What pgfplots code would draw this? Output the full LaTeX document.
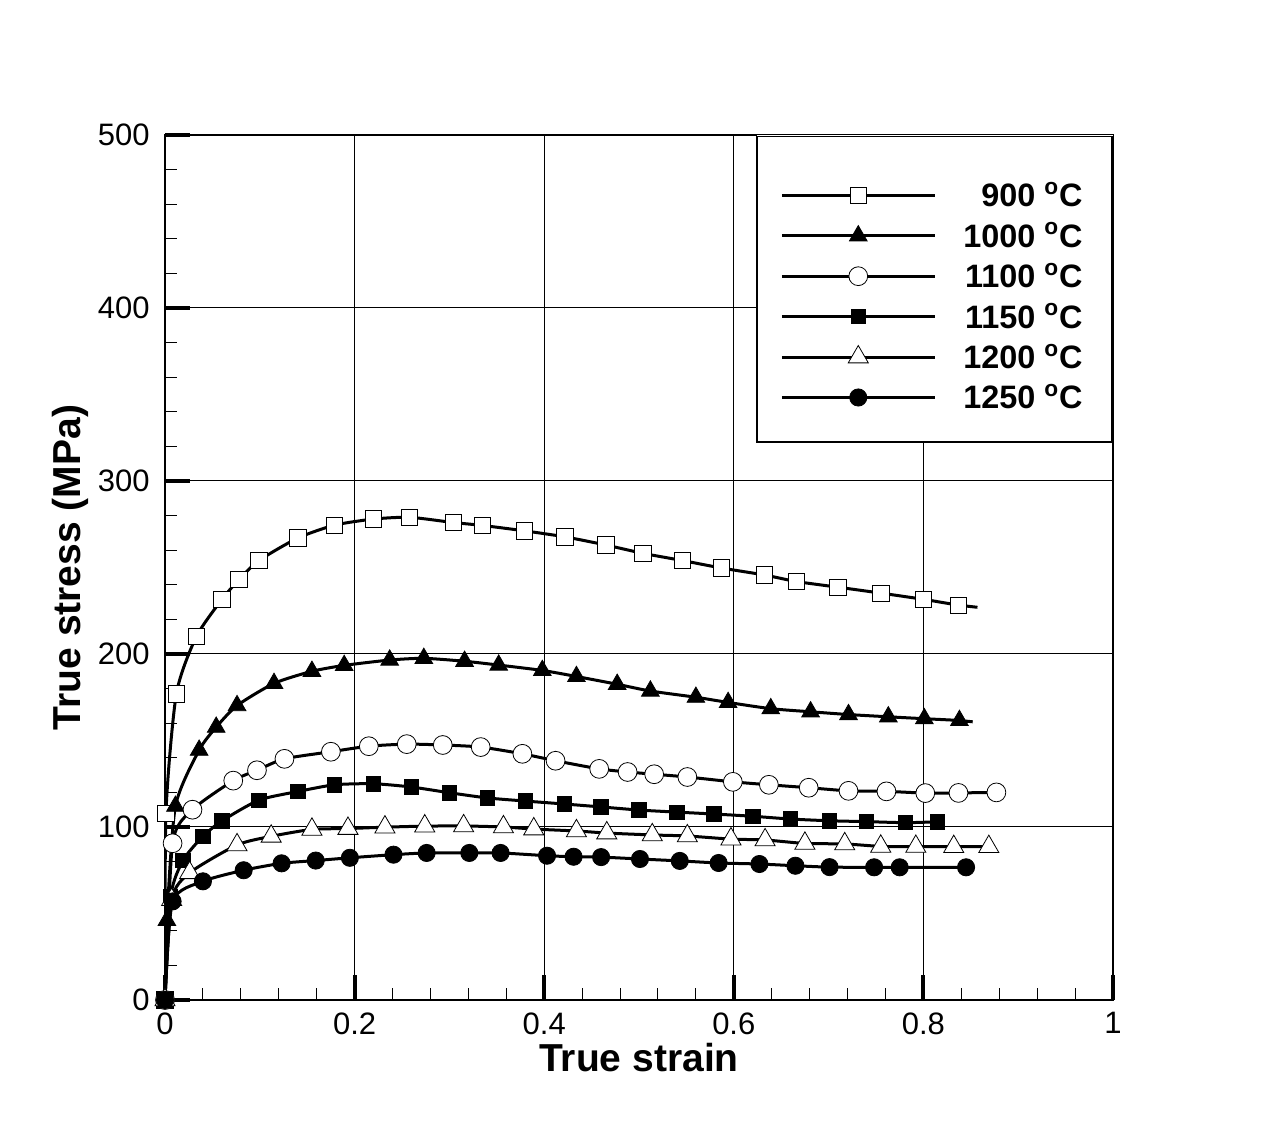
\documentclass[border=0pt]{standalone}
\usepackage{fontspec}
\setmainfont{Liberation Sans}
\usepackage{pgfplots}
\usepackage{pgfplotstable}
\pgfplotsset{compat=1.18}

\pgfplotstableread{
x y
0 0
0.001 108
0.012 177
0.033 210
0.060 231.5
0.078 243
0.099 254
0.140 267
0.179 274.5
0.220 278
0.258 279
0.304 276
0.335 274.3
0.379 271.2
0.422 267.7
0.465 263
0.504 258.2
0.546 254
0.587 249.7
0.632 245.7
0.666 241.9
0.710 238.6
0.755 235.2
0.800 231.6
0.837 228.2
}\Tnine

\pgfplotstableread{
x y
0 0
0.002 46
0.011 112
0.036 144.4
0.054 157.7
0.076 170.2
0.115 183
0.155 190
0.189 193.4
0.237 196.5
0.273 197.5
0.316 195.8
0.352 193.6
0.398 190.5
0.434 187
0.477 182.5
0.512 178.6
0.560 175
0.594 172
0.639 168.4
0.681 166.6
0.721 165
0.763 163.7
0.801 162.6
0.838 161.6
}\Tthousand

\pgfplotstableread{
x y
0 0
0.008 90.6
0.029 110
0.072 126.8
0.097 132.8
0.126 139.4
0.175 143.5
0.215 146.7
0.255 147.9
0.293 147.4
0.333 146.2
0.377 142.3
0.412 138.3
0.458 133.6
0.488 131.8
0.516 130.5
0.551 128.9
0.599 126.1
0.637 124.4
0.679 122.7
0.721 120.9
0.761 120.6
0.802 119.6
0.837 119.7
0.877 120
}\Televen

\pgfplotstableread{
x y
0 0
0.006 60
0.019 80.7
0.040 94.6
0.060 103.5
0.099 115.5
0.140 120.5
0.179 124.4
0.220 125
0.260 123.1
0.300 119.8
0.340 116.8
0.380 115
0.421 113.3
0.460 111.6
0.500 109.8
0.540 108.6
0.579 107.5
0.620 106.2
0.660 104.6
0.701 103.6
0.740 103.1
0.781 102.5
0.815 103
}\Televenfifty

\pgfplotstableread{
x y
0 0
0.007 58
0.026 73.5
0.076 89.6
0.112 94.6
0.155 98.6
0.193 99.1
0.232 99.9
0.274 100.5
0.315 100.6
0.357 100
0.389 98.8
0.434 97.7
0.466 96.5
0.514 95.4
0.551 94.8
0.597 93
0.633 92.5
0.675 90.5
0.717 90.2
0.755 88.8
0.792 88.7
0.832 88.6
0.869 88.6
}\Ttwelve

\pgfplotstableread{
x y
0 0
0.008 57
0.040 68.6
0.083 75
0.123 79
0.159 80.6
0.195 82.2
0.241 84
0.276 85
0.321 85
0.354 85
0.403 83.4
0.431 82.8
0.460 82.6
0.501 81.5
0.543 80.4
0.584 79.2
0.627 78.6
0.665 77.6
0.701 76.8
0.748 76.7
0.775 76.7
0.845 76.7
}\Ttwelvefifty

\begin{document}
\begin{tikzpicture}
\useasboundingbox (0,0) rectangle (633bp,562.5bp);
\begin{axis}[
  at={(82.5bp,62.5bp)}, anchor=south west,
  scale only axis, width=474bp, height=432.5bp,
  xmin=0, xmax=1, ymin=0, ymax=500,
  xtick={0,0.2,0.4,0.6,0.8,1},
  ytick={0,100,200,300,400,500},
  minor x tick num=4, minor y tick num=4,
  tick align=inside, xtick pos=bottom, ytick pos=left,
  grid=major,
  major grid style={black, line width=0.5bp},
  minor grid style={draw=none},
  axis line style={black, line width=0.6bp},
  major tick length=12.5bp, minor tick length=6bp,
  every major tick/.append style={black, line width=2bp},
  every minor tick/.append style={black, line width=0.5bp},
  /pgf/number format/assume math mode=true,
  ticklabel style={font=\fontsize{15.5bp}{18bp}\selectfont, inner sep=0pt},
  xticklabel style={yshift=-6bp},
  yticklabel style={xshift=-7.5bp},
  xlabel={True strain},
  ylabel={True stress (MPa)},
  label style={font=\bfseries\fontsize{19.5bp}{23bp}\selectfont},
  xlabel style={at={(axis description cs:0.5,-0.0832)}, anchor=base},
  ylabel style={at={(axis description cs:-0.0895,0.5)}, anchor=base},
  legend cell align=right,
  legend style={at={(rel axis cs:1,1)}, anchor=north east, xshift=-15bp, yshift=-24.25bp,
    draw=none, fill=none, inner sep=0pt, row sep=8.7bp, column sep=13.5bp,
    font=\bfseries\fontsize{16.2bp}{19bp}\selectfont,
    nodes={inner sep=0pt, text height=11.5bp, text depth=0pt}},
  legend image code/.code={
    \path[draw=none, fill=none] (0bp,-5.5bp) rectangle (76.5bp,5.5bp);
    \draw[black, line width=1.5bp] (0bp,0bp) -- (76.5bp,0bp);
    \draw[#1, mark repeat=2, mark phase=2] plot coordinates {(0bp,0bp) (38.25bp,0bp) (76.5bp,0bp)};
  },
  line lw/.style={black, line width=1.5bp, smooth, tension=0.4, forget plot},
  mk/.style={black, only marks, mark options={solid, line width=1.4bp}},
]
% legend box (covers grid)
\fill[white] (rel axis cs:0.6245,0.6451) rectangle (rel axis cs:1,1);
\draw[black, line width=0.6bp] (rel axis cs:0.6245,0.6451) rectangle (rel axis cs:0.999,0.998);

% lines
\addplot[line lw] table {\Tnine};
\addplot[line lw] coordinates {(0.837,228.2) (0.857,227)};
\addplot[line lw] table {\Tthousand};
\addplot[line lw] coordinates {(0.838,161.6) (0.852,160.8)};
\addplot[line lw] table {\Televen};
\addplot[line lw] table {\Televenfifty};
\addplot[line lw] table {\Ttwelve};
\addplot[line lw] table {\Ttwelvefifty};

% markers
\addplot[mk, mark=square*, mark size=4.1bp, mark options={fill=white}] table {\Tnine};
\addlegendentry{900 \textsuperscript{o}C}
\addplot[mk, mark=triangle*, mark size=5.1bp, mark options={fill=black}] table {\Tthousand};
\addlegendentry{1000 \textsuperscript{o}C}
\addplot[mk, mark=*, mark size=4.7bp, mark options={fill=white}] table {\Televen};
\addlegendentry{1100 \textsuperscript{o}C}
\addplot[mk, mark=square*, mark size=3.6bp, mark options={fill=black}] table {\Televenfifty};
\addlegendentry{1150 \textsuperscript{o}C}
\addplot[mk, mark=triangle*, mark size=5.8bp, mark options={fill=white}] table {\Ttwelve};
\addlegendentry{1200 \textsuperscript{o}C}
\addplot[mk, mark=*, mark size=4.3bp, mark options={fill=black}] table {\Ttwelvefifty};
\addlegendentry{1250 \textsuperscript{o}C}
\end{axis}
\end{tikzpicture}
\end{document}
